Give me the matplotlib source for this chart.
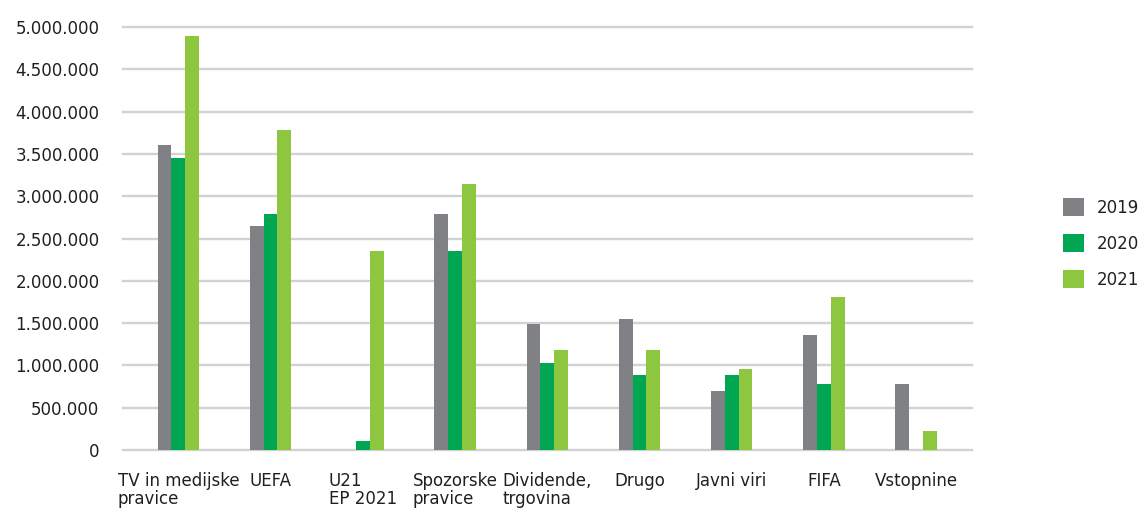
import matplotlib
matplotlib.use("Agg")
import matplotlib.pyplot as plt
import numpy as np
from matplotlib.ticker import FuncFormatter

categories = ["TV in medijske\npravice", "UEFA", "U21\nEP 2021", "Spozorske\npravice",
              "Dividende,\ntrgovina", "Drugo", "Javni viri", "FIFA", "Vstopnine"]
years = ["2019", "2020", "2021"]
v2019 = [3600000, 2650000, 0, 2790000, 1490000, 1550000, 700000, 1360000, 780000]
v2020 = [3450000, 2790000, 110000, 2350000, 1030000, 890000, 890000, 780000, 0]
v2021 = [4890000, 3780000, 2350000, 3140000, 1180000, 1180000, 960000, 1810000, 225000]
colors = ["#808184", "#00A651", "#8DC63F"]
yticks = [0, 500000, 1000000, 1500000, 2000000, 2500000, 3000000, 3500000, 4000000, 4500000, 5000000]

plt.rcParams['font.family'] = ['DejaVu Sans']

fig = plt.figure(figsize=(11.43, 5.11), dpi=100)
ax = fig.add_axes([0.1076, 0.1194, 0.850 - 0.1076, 0.947 - 0.1194])

x = np.arange(len(categories))
w = 0.15
handles = []
for i, (vals, c, lab) in enumerate(zip([v2019, v2020, v2021], colors, years)):
    b = ax.bar(x + (i - 1) * w, vals, width=w, color=c, label=lab, zorder=3)
    handles.append(b.patches[0])

ax.set_xlim(-0.6, 8.6)
ax.set_ylim(0, 5000000)
ax.set_yticks(yticks)
ax.yaxis.set_major_formatter(FuncFormatter(lambda v, p: f"{int(v):,}".replace(",", ".")))
ax.grid(axis='y', color='#d2d2d2', linewidth=1.7, zorder=0)
for gl in ax.get_ygridlines():
    gl.set_clip_on(False)
ax.set_axisbelow(True)
for s in ax.spines.values():
    s.set_visible(False)
ax.tick_params(axis='both', length=0, labelsize=12, colors='#231f20')
ax.tick_params(axis='y', pad=17)
ax.tick_params(axis='x', pad=16)
ax.set_xticks(x)
ax.set_xticklabels(categories, va='top', ha='center', multialignment='left', linespacing=0.95)

fig.legend(handles=handles, labels=years,
           loc='upper left', bbox_to_anchor=(0.9165, 0.642), frameon=False,
           fontsize=12, handlelength=1.3, handleheight=1.3, labelspacing=1.05,
           handletextpad=0.75, labelcolor='#231f20')

fig.savefig("out.png", dpi=100)
